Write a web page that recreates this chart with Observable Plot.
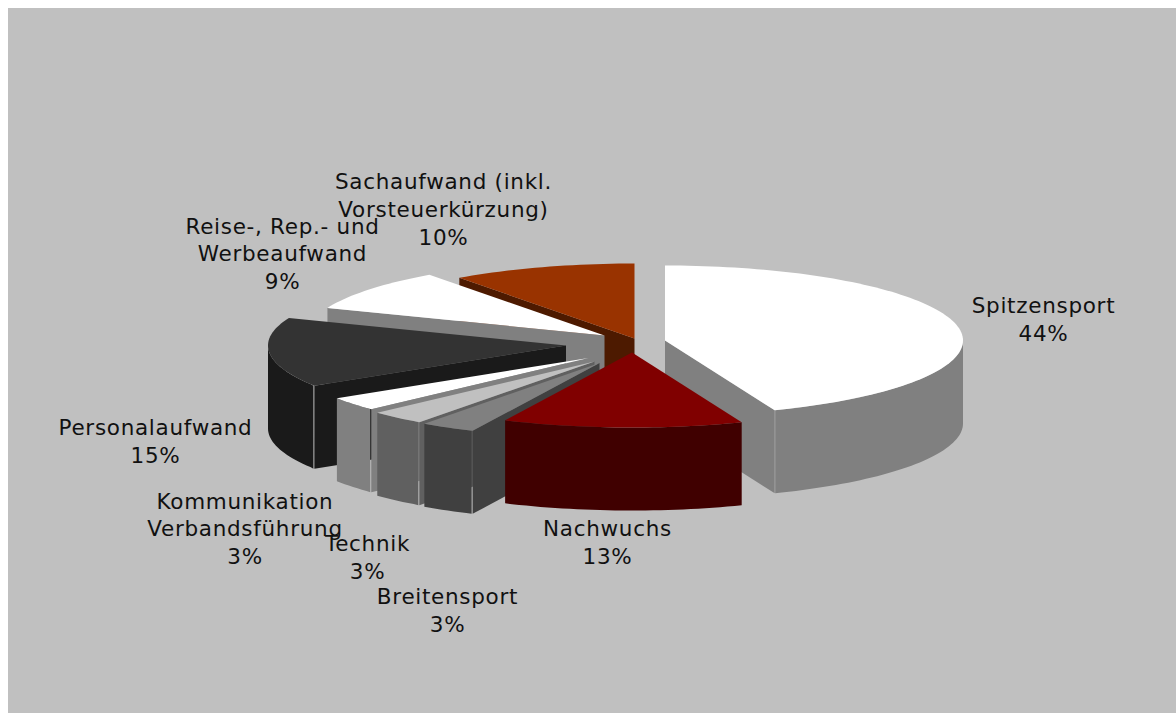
<!DOCTYPE html>
<html lang="de">
<head>
<meta charset="utf-8">
<title>Aufwand nach Bereichen</title>
<style>
  html, body { margin: 0; padding: 0; background: #ffffff; overflow: hidden; height: 100%; }
  #chart { position: absolute; left: 8px; top: 8px; }
  #chart svg { display: block; background: #c0c0c0; }
</style>
<script src="https://cdn.jsdelivr.net/npm/d3@7"></script>
<script src="https://cdn.jsdelivr.net/npm/@observablehq/plot@0.6"></script>
</head>
<body>
<div id="chart"></div>
<script>
// Budget shares, clockwise from twelve o'clock
const categories = [
  "Spitzensport", "Nachwuchs", "Breitensport", "Technik",
  "Kommunikation\nVerbandsführung", "Personalaufwand",
  "Reise-, Rep.- und\nWerbeaufwand", "Sachaufwand (inkl.\nVorsteuerkürzung)"
];
const shares = [44, 13, 3, 3, 3, 15, 9, 10];

// Face colours per slice
const topColors  = ["#ffffff", "#800000", "#808080", "#c0c0c0", "#ffffff", "#333333", "#ffffff", "#993300"];
const sideColors = ["#808080", "#400000", "#404040", "#606060", "#808080", "#1a1a1a", "#808080", "#4d1a00"];

// Pie layout: each slice's pulled-out apex, the ellipse radii and the extrusion
const apexX = [664.5, 631.5, 599, 594, 588, 565.5, 604, 634];
const apexY = [340, 352, 362.5, 361, 357.5, 345, 335, 338];
const radiusX = 298;
const radiusY = 75;
const depth = 83;
const seamGap = [0.5, 0, 1, 1, 1, 1, 0, 0];

// Back-to-front painting order
const paintOrder = [0, 7, 6, 5, 4, 3, 2, 1];

// Label anchors
const labelX = [1043, 607, 447, 367, 244.5, 155, 282, 443];
const labelY = [317.5, 540.5, 608.5, 556, 527, 440, 252, 207.5];

const W = 1176, H = 713, INSET = 8;

const rad = (deg) => (deg * Math.PI) / 180;
const cum = d3.cumsum(shares);
const startAngle = (i) => (i === 0 ? 0 : cum[i - 1] * 3.6);
const endAngle = (i) => cum[i] * 3.6;

function arcPoints(i, from, to) {
  const n = Math.max(2, Math.ceil((to - from) / 1.5));
  return d3.range(n + 1).map((k) => {
    const t = from + ((to - from) * k) / n;
    return {
      x: apexX[i] + radiusX * Math.sin(rad(t)),
      y: apexY[i] - radiusY * Math.cos(rad(t))
    };
  });
}

// Turns a slice into its polygon faces: visible cut faces, outer wall, top
function sliceFaces(i) {
  const a = startAngle(i), b = endAngle(i);
  const apex = { x: apexX[i], y: apexY[i] };
  const faces = [];
  const push = (kind, pts, fill) => faces.push({ key: `${i}-${kind}`, pts, fill });
  const drop = (p) => ({ x: p.x, y: p.y + depth });

  const startCut = Math.sin(rad(a)) < -1e-6;
  const endCut = Math.sin(rad(b)) > 1e-6;

  if (startCut) {
    const rim = arcPoints(i, a, a + 0.001)[0];
    push("cutA", [apex, rim, drop(rim), drop(apex)], sideColors[i]);
  }
  if (endCut) {
    const rim = arcPoints(i, b - 0.001, b).at(-1);
    push("cutB", [apex, rim, drop(rim), drop(apex)], sideColors[i]);
  }

  const wallFrom = Math.max(a, 90), wallTo = Math.min(b, 270);
  if (wallTo > wallFrom) {
    const arc = arcPoints(i, wallFrom, wallTo);
    // A hairline stays open where the wall meets the cut face
    if (startCut && wallFrom === a) arc[0].x -= seamGap[i];
    if (endCut && wallTo === b) arc[arc.length - 1].x += seamGap[i];
    push("wall", [...arc, ...arc.map(drop).reverse()], sideColors[i]);
  }

  push("top", [apex, ...arcPoints(i, a, b)], topColors[i]);
  return faces;
}

const facePoints = paintOrder.flatMap((i) =>
  sliceFaces(i).flatMap((f) => f.pts.map((p) => ({ key: f.key, fill: f.fill, x: p.x, y: p.y })))
);

const labels = categories.map((name, i) => ({
  text: `${name}\n${shares[i]}%`,
  x: labelX[i],
  y: labelY[i]
}));

const chart = Plot.plot({
  width: W - INSET,
  height: H - INSET,
  margin: 0,
  x: { domain: [INSET, W], range: [0, W - INSET], axis: null },
  y: { domain: [INSET, H], range: [0, H - INSET], axis: null },
  style: { background: "#c0c0c0", letterSpacing: "0.7px" },
  marks: [
    Plot.line(facePoints, {
      x: "x",
      y: "y",
      z: "key",
      fill: "fill",
      stroke: "none",
      curve: "linear-closed"
    }),
    Plot.text(labels, {
      x: "x",
      y: "y",
      text: "text",
      fontFamily: "'DejaVu Sans', sans-serif",
      fontSize: 21.5,
      lineHeight: 1.3,
      fill: "#111111",
      textAnchor: "middle"
    })
  ]
});

document.getElementById("chart").appendChild(chart);
</script>
</body>
</html>
